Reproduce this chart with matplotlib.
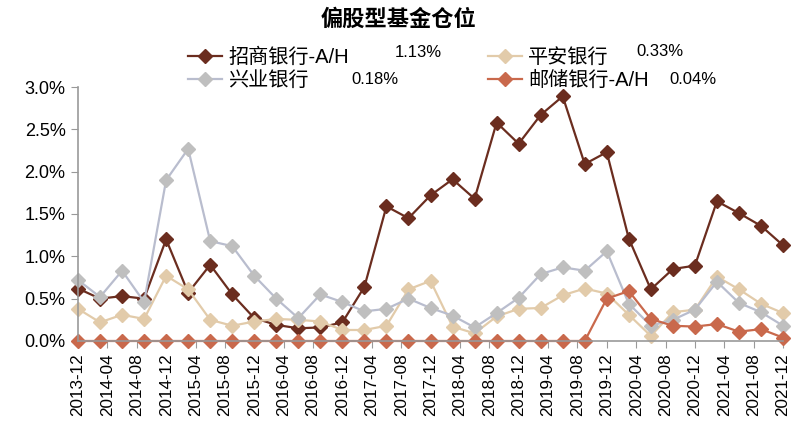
import matplotlib
matplotlib.use("Agg")
import matplotlib.pyplot as plt
from matplotlib.ticker import FuncFormatter

plt.rcParams['font.family'] = ['Liberation Sans', 'Noto Sans CJK SC', 'DejaVu Sans']

# 季度末数据 2013-12 ~ 2021-12
quarters = []
for y in range(2013, 2022):
    for m in (3, 6, 9, 12):
        if (y, m) >= (2013, 12):
            quarters.append(f"{y}-{m:02d}")

zhaoshang = [0.62, 0.50, 0.53, 0.50, 1.20, 0.57, 0.90, 0.55, 0.27, 0.19, 0.15,
             0.16, 0.22, 0.64, 1.59, 1.45, 1.72, 1.91, 1.68, 2.58, 2.33, 2.67,
             2.89, 2.09, 2.23, 1.21, 0.61, 0.85, 0.89, 1.65, 1.51, 1.36, 1.13]
pingan = [0.38, 0.22, 0.31, 0.26, 0.77, 0.61, 0.25, 0.18, 0.23, 0.26, 0.25,
          0.23, 0.13, 0.13, 0.18, 0.61, 0.71, 0.17, 0.09, 0.29, 0.38, 0.39,
          0.54, 0.62, 0.56, 0.31, 0.06, 0.34, 0.37, 0.76, 0.61, 0.44, 0.33]
xingye = [0.72, 0.52, 0.83, 0.46, 1.90, 2.27, 1.18, 1.12, 0.77, 0.50, 0.27,
          0.55, 0.46, 0.35, 0.38, 0.50, 0.39, 0.30, 0.16, 0.33, 0.51, 0.79,
          0.87, 0.83, 1.06, 0.44, 0.18, 0.25, 0.37, 0.70, 0.45, 0.34, 0.18]
youchu = [0.0] * 24 + [0.50, 0.59, 0.26, 0.18, 0.17, 0.20, 0.11, 0.14, 0.04]

# 横轴标签每4个月
tick_labels = []
yy, mm = 2013, 12
while (yy, mm) <= (2021, 12):
    tick_labels.append(f"{yy}-{mm:02d}")
    mm += 4
    if mm > 12:
        mm -= 12
        yy += 1


def month_index(s):
    y, m = s.split('-')
    return (int(y) - 2013) * 12 + int(m) - 12


x = [month_index(q) for q in quarters]
xt = [month_index(t) for t in tick_labels]

fig = plt.figure(figsize=(8.05, 4.37), dpi=100)
ax = fig.add_axes([0.0969, 0.2197, 0.8758, 0.5812])

series = [
    ('招商银行-A/H', zhaoshang, '#6B2D1F', '#6B2D1F'),
    ('平安银行', pingan, '#E2CBAA', '#E2CBAA'),
    ('兴业银行', xingye, '#B9BDCE', '#BFBFBF'),
    ('邮储银行-A/H', youchu, '#C9694C', '#C9694C'),
]
for name, vals, lc, mc in series:
    ax.plot(x, [v / 100 for v in vals], color=lc, lw=1.6, marker='D',
            markersize=7, markerfacecolor=mc, markeredgecolor=mc,
            label=name, clip_on=False)

ax.set_xlim(0, 96)
ax.set_ylim(0, 0.03)
ax.set_yticks([0, 0.005, 0.01, 0.015, 0.02, 0.025, 0.03])
ax.yaxis.set_major_formatter(FuncFormatter(lambda v, p: f"{v * 100:.1f}%"))
ax.set_xticks(xt)
ax.set_xticklabels(tick_labels, rotation=90, fontsize=12.3)
ax.tick_params(axis='y', labelsize=13, length=5, color='#999999', pad=4)
ax.tick_params(axis='x', length=5, color='#999999', pad=4)
for s in ('top', 'right'):
    ax.spines[s].set_visible(False)
for s in ('left', 'bottom'):
    ax.spines[s].set_color('#999999')
    ax.spines[s].set_linewidth(1.2)

fig.text(0.495, 0.955, '偏股型基金仓位', ha='center', va='center',
         fontsize=16, fontweight='bold')

h, l = ax.get_legend_handles_labels()
order = [0, 2, 1, 3]
leg = fig.legend([h[i] for i in order], [l[i] for i in order], ncol=2,
                 loc='upper left', bbox_to_anchor=(0.2335, 0.892),
                 frameon=False, fontsize=14.5, handlelength=1.7,
                 columnspacing=6.9, labelspacing=0.22, handletextpad=0.3,
                 borderaxespad=0, borderpad=0)

vals_txt = [('1.13%', 0.490, 0.879), ('0.33%', 0.790, 0.883),
            ('0.18%', 0.437, 0.817), ('0.04%', 0.832, 0.817)]
for t, px, py in vals_txt:
    fig.text(px, py, t, ha='left', va='center', fontsize=12)

fig.savefig('out.png', dpi=100)
